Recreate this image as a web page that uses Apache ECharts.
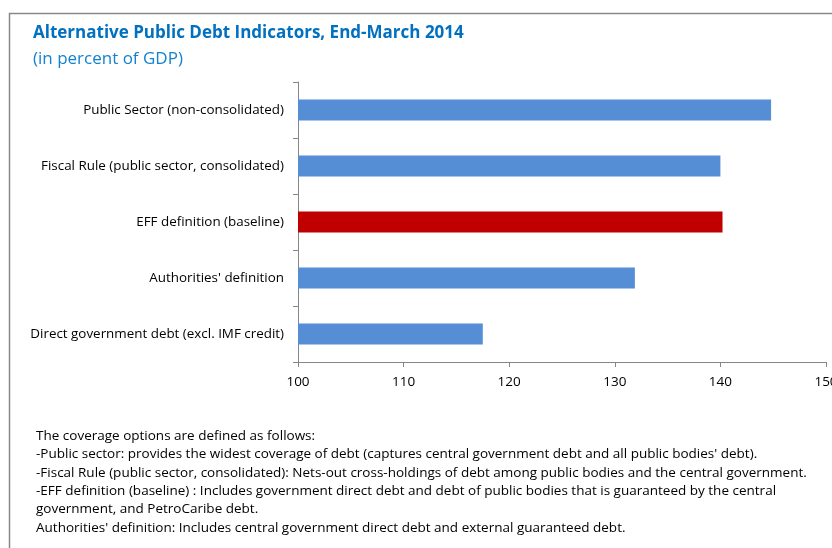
<!DOCTYPE html>
<html>
<head>
<meta charset="utf-8">
<script src="https://cdn.jsdelivr.net/npm/echarts@6/dist/echarts.min.js"></script>
<style>
  html, body { margin: 0; padding: 0; background: #fff; }
  #chart { width: 832px; height: 548px; }
</style>
</head>
<body>
<div id="chart"></div>
<script>
// Debt measures, top to bottom
const categories = [
  'Public Sector (non-consolidated)',
  'Fiscal Rule (public sector, consolidated)',
  'EFF definition (baseline)',
  "Authorities' definition",
  'Direct government debt (excl. IMF credit)'
];
// Debt in percent of GDP
const values = [144.8, 140.0, 140.2, 131.9, 117.5];
const baselineName = 'EFF definition (baseline)';
const xTicks = [100, 110, 120, 130, 140, 150];

const notes = [
  'The coverage options are defined as follows:',
  '-Public sector: provides the widest coverage of debt (captures central government debt and all public bodies\' debt).',
  '-Fiscal Rule (public sector, consolidated): Nets-out cross-holdings of debt among public bodies and the central government.',
  '-EFF definition (baseline) : Includes government direct debt and debt of public bodies that is guaranteed by the central',
  'government, and PetroCaribe debt.',
  'Authorities\' definition: Includes central government direct debt and external guaranteed debt.'
];

const FONT = '"Open Sans", "Noto Sans", sans-serif';
const chart = echarts.init(document.getElementById('chart'), null, { renderer: 'canvas' });

const noteGraphics = notes.map((t, i) => ({
  type: 'text',
  left: 36,
  top: 429 + i * 18.4,
  style: { text: t, font: '13.5px ' + FONT, fill: '#000' }
}));

chart.setOption({
  animation: false,
  backgroundColor: '#fff',
  title: {
    left: 33,
    top: 25,
    padding: 0,
    text: 'Alternative Public Debt Indicators, End-March 2014',
    subtext: '(in percent of GDP)',
    itemGap: 9,
    textStyle: { fontFamily: FONT, fontSize: 17, fontWeight: 'bold', color: '#0070C0' },
    subtextStyle: { fontFamily: FONT, fontSize: 17, color: '#1382CF' }
  },
  grid: { left: 298, right: 6, top: 82, bottom: 186, containLabel: false, outerBoundsMode: 'none' },
  xAxis: {
    type: 'value',
    min: xTicks[0],
    max: xTicks[xTicks.length - 1],
    interval: 10,
    axisLine: { show: true, lineStyle: { color: '#868686', width: 1 } },
    axisTick: { show: true, length: 5, lineStyle: { color: '#868686' } },
    splitLine: { show: false },
    axisLabel: { color: '#000', fontFamily: FONT, fontSize: 13.5, margin: 13 }
  },
  yAxis: {
    type: 'category',
    inverse: true,
    data: categories,
    axisLine: { show: true, lineStyle: { color: '#868686', width: 1 } },
    axisTick: { show: true, length: 5, lineStyle: { color: '#868686' } },
    axisLabel: { color: '#000', fontFamily: FONT, fontSize: 13.4, margin: 14 }
  },
  series: [{
    type: 'bar',
    barWidth: 21,
    data: categories.map((c, i) => ({
      value: values[i],
      itemStyle: { color: c === baselineName ? '#C00000' : '#558ED5' }
    }))
  }],
  graphic: [
    {
      type: 'polyline',
      shape: { points: [[9.5, 548], [9.5, 13.5], [832, 13.5]] },
      style: { stroke: '#888', lineWidth: 1.5, fill: null },
      silent: true
    }
  ].concat(noteGraphics)
});
</script>
</body>
</html>
